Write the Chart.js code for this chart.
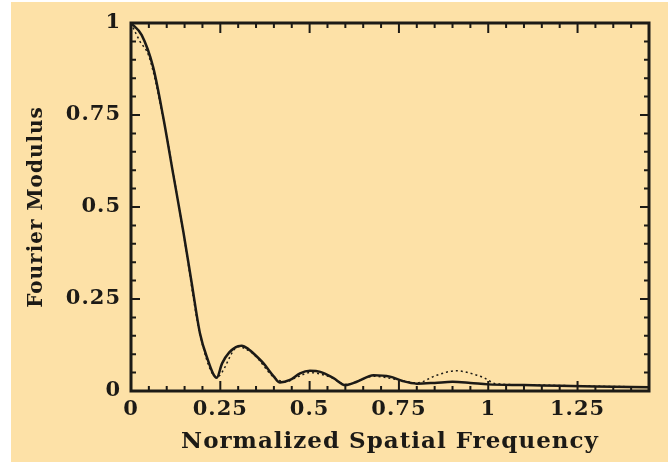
<!DOCTYPE html>
<html>
<head>
<meta charset="utf-8">
<script src="https://cdn.jsdelivr.net/npm/chart.js@4/dist/chart.umd.min.js"></script>
<style>
  html, body { margin:0; padding:0; background:#fff; }
  #paper { position:absolute; left:11px; top:2px; width:657px; height:460px; background:#fde1a7; }
  #wrap { position:absolute; left:0; top:0; width:672px; height:472px; }
</style>
</head>
<body>
<div id="paper"></div>
<div id="wrap"><canvas id="chart" width="672" height="472"></canvas></div>
<script>
// ================= DATA =================
const freqSolid = [0, 0.03, 0.062, 0.09, 0.118, 0.147, 0.17, 0.193, 0.212, 0.24, 0.255, 0.275, 0.3, 0.31, 0.33, 0.343, 0.371, 0.4, 0.417, 0.445, 0.473, 0.501, 0.53, 0.567, 0.6, 0.632, 0.679, 0.725, 0.76, 0.8, 0.85, 0.9, 0.95, 1.0, 1.1, 1.2, 1.3, 1.45];
const modSolid  = [1, 0.967, 0.88, 0.745, 0.59, 0.43, 0.293, 0.157, 0.093, 0.036, 0.075, 0.105, 0.122, 0.123, 0.113, 0.102, 0.075, 0.039, 0.023, 0.03, 0.048, 0.055, 0.052, 0.035, 0.016, 0.025, 0.043, 0.039, 0.027, 0.02, 0.022, 0.025, 0.022, 0.018, 0.016, 0.014, 0.012, 0.01];

const freqDotted = [0, 0.012, 0.025, 0.05, 0.09, 0.147, 0.193, 0.24, 0.3, 0.343, 0.4, 0.43, 0.47, 0.5, 0.56, 0.6, 0.68, 0.76, 0.8, 0.856, 0.91, 0.968, 0.99, 1.02, 1.1, 1.2, 1.3, 1.45];
const modDotted  = [1, 0.975, 0.95, 0.91, 0.742, 0.427, 0.155, 0.038, 0.12, 0.1, 0.037, 0.025, 0.04, 0.05, 0.037, 0.018, 0.04, 0.028, 0.022, 0.043, 0.055, 0.043, 0.035, 0.02, 0.017, 0.015, 0.013, 0.011];

const xTickVals = [0, 0.25, 0.5, 0.75, 1, 1.25];
const xTickLabels = ["0", "0.25", "0.5", "0.75", "1", "1.25"];
const yTickVals = [0, 0.25, 0.5, 0.75, 1];
const yTickLabels = ["0", "0.25", "0.5", "0.75", "1"];

const xMin = 0, xMax = 1.45, yMin = 0, yMax = 1;
const minorStep = 0.05, majorStep = 0.25;

const ink = "#1c1a16";

// letter spacing for the axis text
const spacingPlugin = {
  id: "spacing",
  beforeDraw(chart){ chart.ctx.letterSpacing = "1px"; },
  beforeDatasetsDraw(chart){ chart.ctx.letterSpacing = "0px"; }
};

// frame + inward ticks on all four sides
const framePlugin = {
  id: "frame",
  afterDatasetsDraw(chart){
    const {ctx, scales:{x, y}} = chart;
    const L = x.getPixelForValue(xMin), R = x.getPixelForValue(xMax);
    const T = y.getPixelForValue(yMax), B = y.getPixelForValue(yMin);
    ctx.save();
    ctx.strokeStyle = ink;
    ctx.lineWidth = 2;
    ctx.beginPath();
    for(let i=0; i*minorStep <= xMax+1e-9; i++){
      const v = +(i*minorStep).toFixed(2);
      const px = x.getPixelForValue(v);
      const len = (Math.abs(v/majorStep - Math.round(v/majorStep)) < 1e-6) ? 10 : 5;
      ctx.moveTo(px, B); ctx.lineTo(px, B-len);
      ctx.moveTo(px, T); ctx.lineTo(px, T+len);
    }
    for(let i=0; i*minorStep <= yMax+1e-9; i++){
      const v = +(i*minorStep).toFixed(2);
      const py = y.getPixelForValue(v);
      const len = (Math.abs(v/majorStep - Math.round(v/majorStep)) < 1e-6) ? 9 : 5;
      ctx.moveTo(L, py); ctx.lineTo(L+len, py);
      ctx.moveTo(R, py); ctx.lineTo(R-len, py);
    }
    ctx.stroke();
    ctx.lineWidth = 3;
    ctx.strokeRect(L, T, R-L, B-T);
    ctx.restore();
  }
};

const axisFont = {family:"'DejaVu Serif', serif", weight:"bold", size:21};

new Chart(document.getElementById("chart"), {
  type: "line",
  data: {
    datasets: [
      {
        label: "Solid",
        data: freqSolid.map((f,i)=>({x:f, y:modSolid[i]})),
        borderColor: ink, borderWidth: 2.5, pointRadius: 0,
        cubicInterpolationMode: "monotone", fill: false
      },
      {
        label: "Dotted",
        data: freqDotted.map((f,i)=>({x:f, y:modDotted[i]})),
        borderColor: ink, borderWidth: 1.5, borderDash: [2,3], pointRadius: 0,
        cubicInterpolationMode: "monotone", fill: false
      }
    ]
  },
  options: {
    responsive: false,
    animation: false,
    events: [],
    layout: {padding: {left:0, top:23, right:23, bottom:0}},
    plugins: {legend:{display:false}, tooltip:{enabled:false}},
    scales: {
      x: {
        type: "linear", min: xMin, max: xMax,
        afterBuildTicks: s => { s.ticks = xTickVals.map(v=>({value:v})); },
        afterFit: s => { s.height = 81; },
        grid: {display:false, drawTicks:false},
        border: {display:false},
        ticks: {color: ink, font: axisFont, padding: 6, maxRotation: 0, autoSkip: false,
                callback: (v, i) => xTickLabels[i]},
        title: {display:true, text:"Normalized Spatial Frequency", color: ink,
                font: {family:"'DejaVu Serif', serif", weight:"bold", size:23},
                padding: {top:0, bottom:16}}
      },
      y: {
        type: "linear", min: yMin, max: yMax,
        afterBuildTicks: s => { s.ticks = yTickVals.map(v=>({value:v})); },
        afterFit: s => { s.width = 131; },
        grid: {display:false, drawTicks:false},
        border: {display:false},
        ticks: {color: ink, font: axisFont, padding: 10, autoSkip: false,
                callback: (v, i) => yTickLabels[i]},
        title: {display:true, text:"Fourier Modulus", color: ink,
                font: {family:"'DejaVu Serif', serif", weight:"bold", size:20},
                padding: {top:25, bottom:0}}
      }
    }
  },
  plugins: [spacingPlugin, framePlugin]
});
</script>
</body>
</html>
